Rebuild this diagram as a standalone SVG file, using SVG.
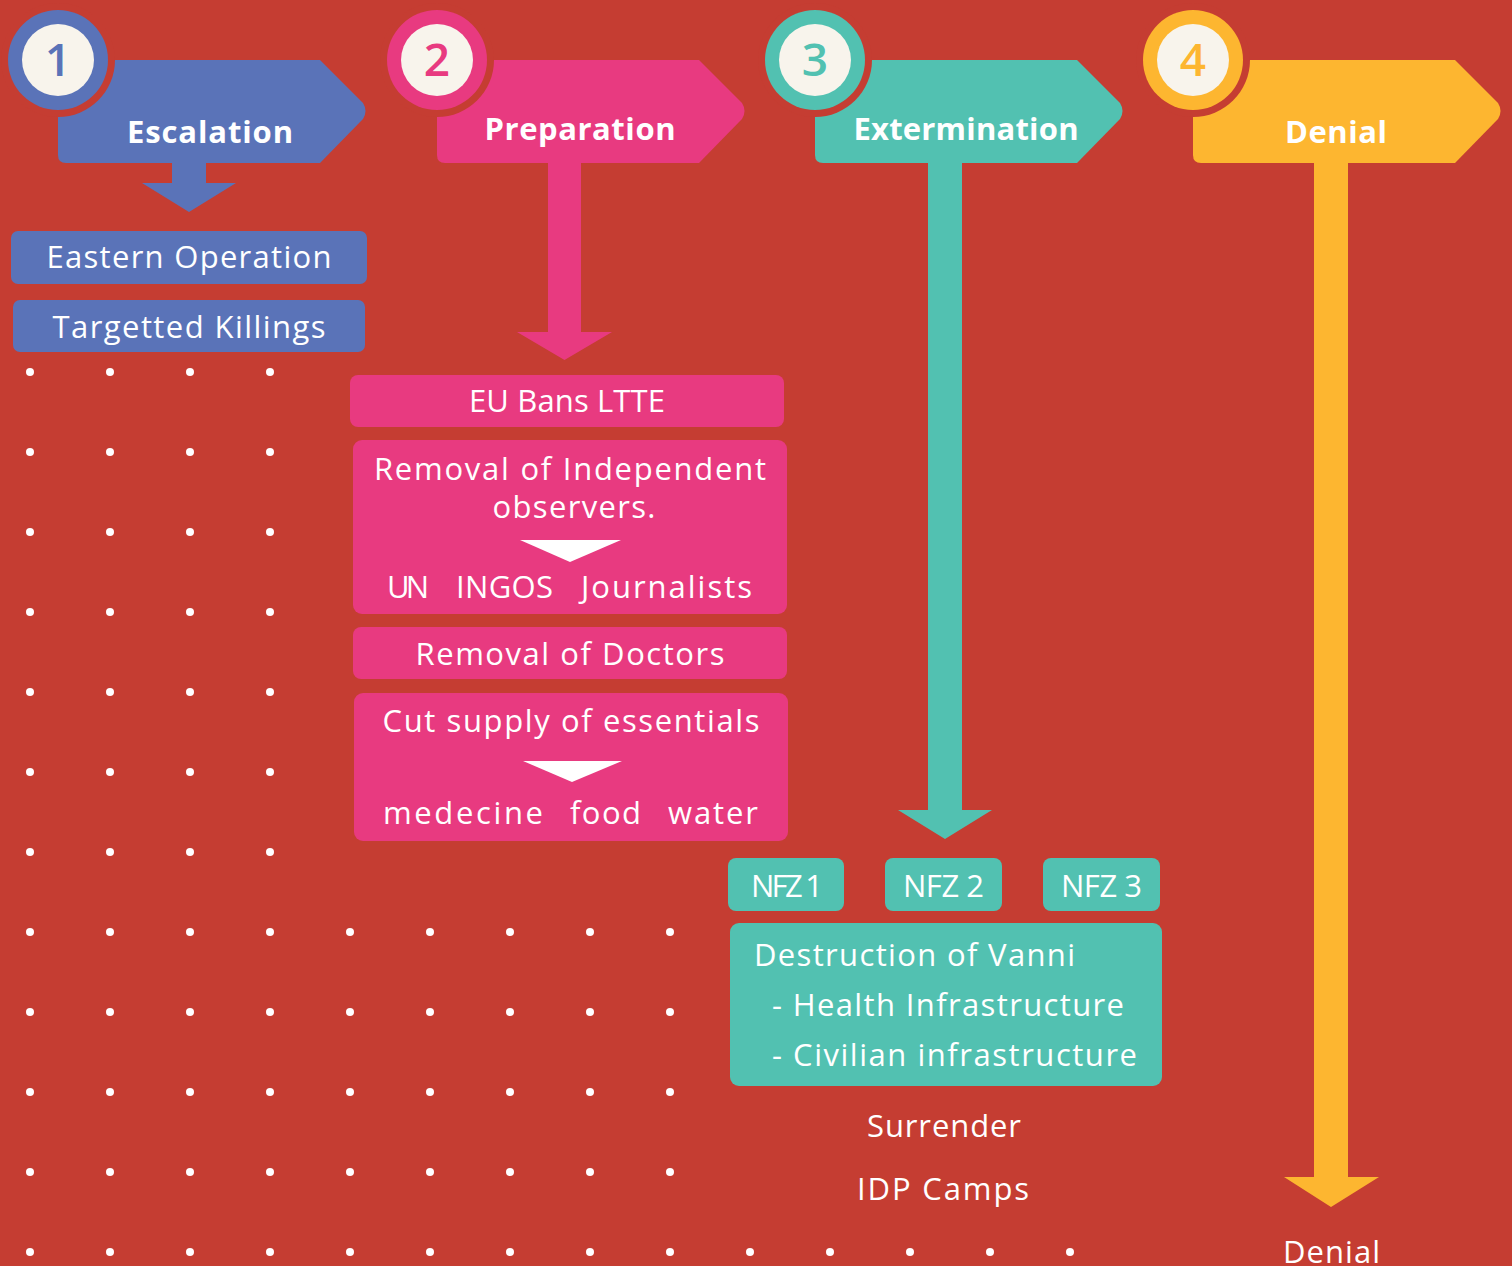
<svg xmlns="http://www.w3.org/2000/svg" width="1512" height="1266" viewBox="0 0 1512 1266">
<defs>
<style>
.t{font-family:"Open Sans","Liberation Sans",sans-serif;fill:#ffffff;}
.h{font-family:"Open Sans","Liberation Sans",sans-serif;font-weight:700;font-size:31px;fill:#ffffff;text-anchor:middle;}
.n{font-family:"Open Sans","Liberation Sans",sans-serif;font-weight:600;font-size:46px;text-anchor:middle;}
.b{font-size:31px;text-anchor:middle;}
.l{font-size:31px;}
.dot{fill:#ffffff;}
.blue{fill:#5A73B8;}
.pink{fill:#E83A80;}
.teal{fill:#52C1B1;}
.yel{fill:#FDB630;}
</style>
<path id="banner" d="M 66 60 H 320 L 363 103 Q 368 111 363 119 L 320 163 H 66 Q 58 163 58 155 V 68 Q 58 60 66 60 Z"/>
<circle id="dt" r="4"/>
</defs>
<rect width="1512" height="1266" fill="#C53D32"/>

<g id="dots" class="dot">
<g id="dotrow4">
<use href="#dt" x="30" y="372"/><use href="#dt" x="110" y="372"/><use href="#dt" x="190" y="372"/><use href="#dt" x="270" y="372"/>
<use href="#dt" x="30" y="452"/><use href="#dt" x="110" y="452"/><use href="#dt" x="190" y="452"/><use href="#dt" x="270" y="452"/>
<use href="#dt" x="30" y="532"/><use href="#dt" x="110" y="532"/><use href="#dt" x="190" y="532"/><use href="#dt" x="270" y="532"/>
<use href="#dt" x="30" y="612"/><use href="#dt" x="110" y="612"/><use href="#dt" x="190" y="612"/><use href="#dt" x="270" y="612"/>
<use href="#dt" x="30" y="692"/><use href="#dt" x="110" y="692"/><use href="#dt" x="190" y="692"/><use href="#dt" x="270" y="692"/>
<use href="#dt" x="30" y="772"/><use href="#dt" x="110" y="772"/><use href="#dt" x="190" y="772"/><use href="#dt" x="270" y="772"/>
<use href="#dt" x="30" y="852"/><use href="#dt" x="110" y="852"/><use href="#dt" x="190" y="852"/><use href="#dt" x="270" y="852"/>
</g>
<g id="dotrow9">
<use href="#dt" x="30" y="932"/><use href="#dt" x="110" y="932"/><use href="#dt" x="190" y="932"/><use href="#dt" x="270" y="932"/><use href="#dt" x="350" y="932"/><use href="#dt" x="430" y="932"/><use href="#dt" x="510" y="932"/><use href="#dt" x="590" y="932"/><use href="#dt" x="670" y="932"/>
<use href="#dt" x="30" y="1012"/><use href="#dt" x="110" y="1012"/><use href="#dt" x="190" y="1012"/><use href="#dt" x="270" y="1012"/><use href="#dt" x="350" y="1012"/><use href="#dt" x="430" y="1012"/><use href="#dt" x="510" y="1012"/><use href="#dt" x="590" y="1012"/><use href="#dt" x="670" y="1012"/>
<use href="#dt" x="30" y="1092"/><use href="#dt" x="110" y="1092"/><use href="#dt" x="190" y="1092"/><use href="#dt" x="270" y="1092"/><use href="#dt" x="350" y="1092"/><use href="#dt" x="430" y="1092"/><use href="#dt" x="510" y="1092"/><use href="#dt" x="590" y="1092"/><use href="#dt" x="670" y="1092"/>
<use href="#dt" x="30" y="1172"/><use href="#dt" x="110" y="1172"/><use href="#dt" x="190" y="1172"/><use href="#dt" x="270" y="1172"/><use href="#dt" x="350" y="1172"/><use href="#dt" x="430" y="1172"/><use href="#dt" x="510" y="1172"/><use href="#dt" x="590" y="1172"/><use href="#dt" x="670" y="1172"/>
</g>
<g id="dotrow14">
<use href="#dt" x="30" y="1252"/><use href="#dt" x="110" y="1252"/><use href="#dt" x="190" y="1252"/><use href="#dt" x="270" y="1252"/><use href="#dt" x="350" y="1252"/><use href="#dt" x="430" y="1252"/><use href="#dt" x="510" y="1252"/><use href="#dt" x="590" y="1252"/><use href="#dt" x="670" y="1252"/><use href="#dt" x="750" y="1252"/><use href="#dt" x="830" y="1252"/><use href="#dt" x="910" y="1252"/><use href="#dt" x="990" y="1252"/><use href="#dt" x="1070" y="1252"/>
</g>
</g>

<g id="connectors">
<polygon class="blue" points="172,160 206,160 206,183 236,183 189,212 142,183 172,183"/>
<polygon class="pink" points="548,160 581,160 581,332 612,332 564.5,360 517,332 548,332"/>
<polygon class="teal" points="928,160 962,160 962,810 992,810 945,839 898,810 928,810"/>
<polygon class="yel" points="1314,160 1348,160 1348,1177 1379,1177 1331,1207 1284,1177 1314,1177"/>
</g>

<g id="stage1">
<use href="#banner" class="blue"/>
<circle cx="58" cy="60" r="57" fill="#C53D32"/>
<circle cx="58" cy="60" r="50" class="blue"/>
<circle cx="58" cy="60" r="36" fill="#F8F4EC"/>
<text class="n" x="58" y="76" fill="#5A73B8">1</text>
<text class="h" x="210" y="143" textLength="166">Escalation</text>
</g>
<g id="stage2">
<use href="#banner" class="pink" x="379"/>
<circle cx="437" cy="60" r="57" fill="#C53D32"/>
<circle cx="437" cy="60" r="50" class="pink"/>
<circle cx="437" cy="60" r="36" fill="#F8F4EC"/>
<text class="n" x="437" y="76" fill="#E83A80">2</text>
<text class="h" x="580" y="140" textLength="191">Preparation</text>
</g>
<g id="stage3">
<use href="#banner" class="teal" x="757"/>
<circle cx="815" cy="60" r="57" fill="#C53D32"/>
<circle cx="815" cy="60" r="50" class="teal"/>
<circle cx="815" cy="60" r="36" fill="#F8F4EC"/>
<text class="n" x="815" y="76" fill="#52C1B1">3</text>
<text class="h" x="966" y="140" textLength="225">Extermination</text>
</g>
<g id="stage4">
<use href="#banner" class="yel" x="1135"/>
<circle cx="1193" cy="60" r="57" fill="#C53D32"/>
<circle cx="1193" cy="60" r="50" class="yel"/>
<circle cx="1193" cy="60" r="36" fill="#F8F4EC"/>
<text class="n" x="1193" y="76" fill="#FDB630">4</text>
<text class="h" x="1336" y="143" textLength="102">Denial</text>
</g>

<g id="eastern-operation">
<rect x="11" y="231" width="356" height="53" rx="7" class="blue"/>
<text class="t b" x="189" y="268" textLength="285">Eastern Operation</text>
</g>
<g id="targetted-killings">
<rect x="13" y="300" width="352" height="52" rx="7" class="blue"/>
<text class="t b" x="189" y="338" textLength="273">Targetted Killings</text>
</g>

<g id="eu-bans">
<rect x="350" y="375" width="434" height="52" rx="8" class="pink"/>
<text class="t b" x="567" y="412" textLength="196">EU Bans LTTE</text>
</g>
<g id="removal-observers">
<rect x="353" y="440" width="434" height="174" rx="9" class="pink"/>
<text class="t b" x="570" y="480" textLength="392">Removal of Independent</text>
<text class="t b" x="574" y="518" textLength="163">observers.</text>
<polygon points="520,540 621,540 570,562" fill="#ffffff"/>
<text class="t b" x="408" y="598" textLength="42">UN</text>
<text class="t b" x="504.5" y="598" textLength="97">INGOS</text>
<text class="t b" x="666.5" y="598" textLength="171">Journalists</text>
</g>
<g id="removal-doctors">
<rect x="353" y="627" width="434" height="52" rx="8" class="pink"/>
<text class="t b" x="570" y="665" textLength="309">Removal of Doctors</text>
</g>
<g id="cut-supply">
<rect x="354" y="693" width="434" height="148" rx="9" class="pink"/>
<text class="t b" x="571" y="732" textLength="377">Cut supply of essentials</text>
<polygon points="523,761 622,761 572,782" fill="#ffffff"/>
<text class="t b" x="463" y="824" textLength="160">medecine</text>
<text class="t b" x="605.5" y="824" textLength="71">food</text>
<text class="t b" x="713" y="824" textLength="90">water</text>
</g>

<g id="nfz1">
<rect x="728" y="858" width="116" height="53" rx="8" class="teal"/>
<text class="t b" x="787" y="897" textLength="72">NFZ 1</text>
</g>
<g id="nfz2">
<rect x="885" y="858" width="117" height="53" rx="8" class="teal"/>
<text class="t b" x="943.5" y="897" textLength="81">NFZ 2</text>
</g>
<g id="nfz3">
<rect x="1043" y="858" width="117" height="53" rx="8" class="teal"/>
<text class="t b" x="1101.5" y="897" textLength="81">NFZ 3</text>
</g>
<g id="destruction">
<rect x="730" y="923" width="432" height="163" rx="9" class="teal"/>
<text class="t l" x="754" y="966" textLength="321">Destruction of Vanni</text>
<text class="t l" x="772" y="1016" textLength="352">- Health Infrastructure</text>
<text class="t l" x="772" y="1066" textLength="365">- Civilian infrastructure</text>
</g>
<g id="surrender">
<text class="t b" x="944" y="1137" textLength="154">Surrender</text>
</g>
<g id="idp-camps">
<text class="t b" x="943" y="1200" textLength="172">IDP Camps</text>
</g>
<g id="denial-end">
<text class="t b" x="1331.5" y="1263" textLength="97">Denial</text>
</g>
</svg>
